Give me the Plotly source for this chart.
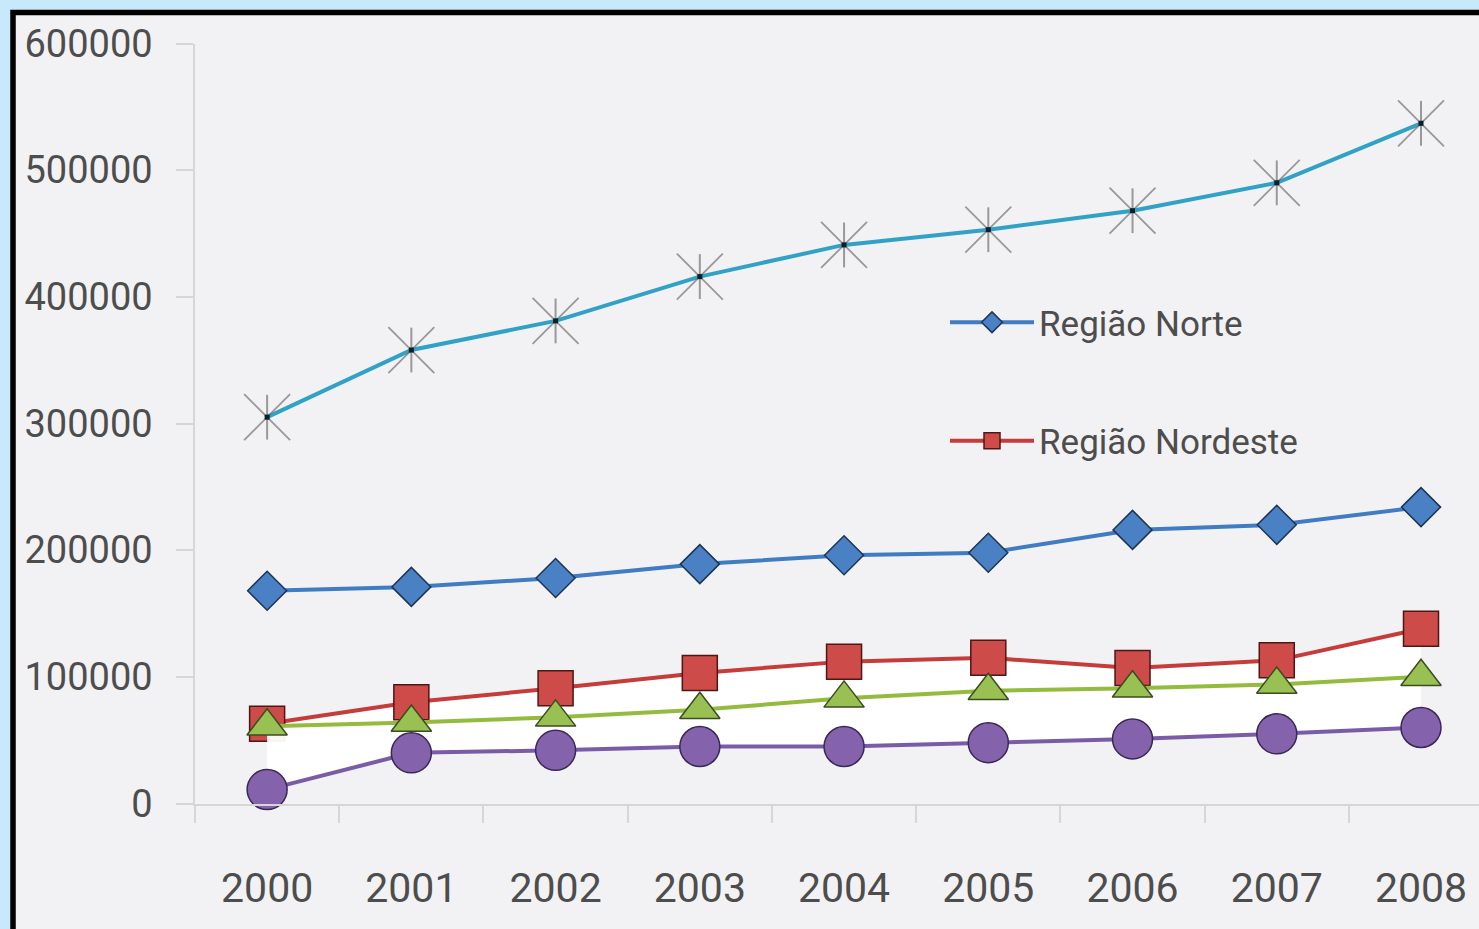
import plotly.graph_objects as go

# Anos e séries
anos = ["2000", "2001", "2002", "2003", "2004", "2005", "2006", "2007", "2008"]

regiao_sudeste = [305000, 358000, 381000, 416000, 441000, 453000, 468000, 490000, 537000]
regiao_norte = [168000, 171000, 178000, 189000, 196000, 198000, 216000, 220000, 234000]
regiao_nordeste = [63000, 80000, 91000, 103000, 112000, 115000, 107000, 113000, 138000]
regiao_sul = [61000, 64000, 68000, 74000, 83000, 89000, 91000, 94000, 100000]
regiao_centro_oeste = [11000, 40000, 42000, 45000, 45000, 48000, 51000, 55000, 60000]

y_ticks = [0, 100000, 200000, 300000, 400000, 500000, 600000]

W, H = 1479, 929
FONT = "Roboto"
TEXT = "#4d4d4d"
STAR = "rgba(105,105,105,0.65)"

fig = go.Figure()

# Série superior: linha ciano com marcadores em estrela
fig.add_trace(go.Scatter(
    x=anos, y=regiao_sudeste, name="Região Sudeste", mode="lines+markers",
    line=dict(color="#31a2c6", width=4),
    marker=dict(symbol="x-thin-open", size=46, color=STAR,
                line=dict(color=STAR, width=1.8)),
    showlegend=False, cliponaxis=False,
))
fig.add_trace(go.Scatter(
    x=anos, y=regiao_sudeste, mode="markers",
    marker=dict(symbol="line-ns-open", size=32, color=STAR,
                line=dict(color=STAR, width=2)),
    showlegend=False, hoverinfo="skip", cliponaxis=False,
))
fig.add_trace(go.Scatter(
    x=anos, y=regiao_sudeste, mode="markers",
    marker=dict(symbol="square", size=5, color="#0b1f2a"),
    showlegend=False, hoverinfo="skip", cliponaxis=False,
))

fig.add_trace(go.Scatter(
    x=anos, y=regiao_norte, name="Região Norte", mode="lines+markers",
    line=dict(color="#3f7cc2", width=4),
    marker=dict(symbol="diamond", size=30, color="#4a80c4",
                line=dict(color="#1c3556", width=1.5)),
    legendgroup="norte", cliponaxis=False,
))

fig.add_trace(go.Scatter(
    x=anos, y=regiao_nordeste, name="Região Nordeste", mode="lines+markers",
    line=dict(color="#c63c3a", width=4),
    marker=dict(symbol="square", size=35, color="#cd4b48",
                line=dict(color="#4e1614", width=1.5)),
    legendgroup="nordeste", cliponaxis=False,
))

# Faixas claras entre as séries inferiores
fig.add_trace(go.Scatter(
    x=anos, y=regiao_sul, name="Região Sul", mode="lines+markers",
    line=dict(color="#93bb3e", width=4),
    fill="tonexty", fillcolor="rgba(255,255,255,0.95)",
    marker=dict(symbol="triangle-up", size=35, color="#98c052",
                line=dict(color="#3c4c22", width=1.5)),
    showlegend=False, cliponaxis=False,
))

fig.add_trace(go.Scatter(
    x=anos, y=regiao_centro_oeste, name="Região Centro-Oeste", mode="lines+markers",
    line=dict(color="#7a5ca6", width=4),
    fill="tonexty", fillcolor="rgba(255,255,255,0.95)",
    marker=dict(symbol="circle", size=40, color="#8462ac",
                line=dict(color="#3a2856", width=1.5)),
    showlegend=False, cliponaxis=False,
))

# Fundo cinza com moldura preta no canto superior esquerdo
fig.add_shape(
    type="rect", xref="paper", yref="paper",
    x0=13 / W, x1=1.02, y0=-0.05, y1=1 - 12.5 / H,
    fillcolor="#f2f2f4", line=dict(color="#000000", width=5.5), layer="below",
)

y_zero_px = 803.5
y_top_px = 43.5
fig.update_layout(
    width=W, height=H, autosize=False,
    margin=dict(l=0, r=0, t=0, b=0, pad=0),
    paper_bgcolor="#c8e8fb",
    plot_bgcolor="rgba(0,0,0,0)",
    font=dict(family=FONT, color=TEXT),
    xaxis=dict(
        type="category", automargin=False,
        domain=[195 / W, 1],
        range=[-0.5, (W - 267) / 144.25],
        showline=True, linecolor="#d6d6d6", linewidth=1.5,
        ticks="outside", tickson="boundaries", ticklen=18,
        tickcolor="#d6d6d6", tickwidth=1.5,
        showgrid=False, zeroline=False,
        tickfont=dict(family=FONT, size=41, color=TEXT),
        ticklabelstandoff=48,
    ),
    yaxis=dict(
        automargin=False,
        domain=[(H - y_zero_px) / H, 1 - y_top_px / H],
        range=[0, 600000],
        tickvals=y_ticks, tickformat="d",
        showline=True, linecolor="#d6d6d6", linewidth=1.5,
        ticks="outside", ticklen=17, tickcolor="#d6d6d6", tickwidth=1.5,
        showgrid=False, zeroline=False,
        tickfont=dict(family=FONT, size=38, color=TEXT),
        ticklabelstandoff=16,
    ),
    legend=dict(
        x=945 / W, xanchor="left",
        y=1 - 293 / H, yanchor="top",
        bgcolor="rgba(0,0,0,0)",
        font=dict(family=FONT, size=35, color=TEXT),
        tracegroupgap=70, itemwidth=84,
    ),
    showlegend=True,
)

fig.write_html("out.html")
